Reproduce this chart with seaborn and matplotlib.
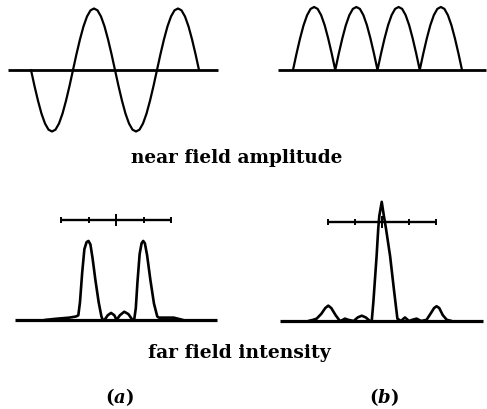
import matplotlib
matplotlib.use('Agg')
import matplotlib.pyplot as plt
import seaborn as sns

# near field: phase across the aperture (deg) and field amplitude
near_phase = [0, 15, 30, 45, 60, 75, 90, 105, 120, 135, 150, 165,
              180, 195, 210, 225, 240, 255, 270, 285, 300, 315, 330, 345,
              360, 375, 390, 405, 420, 435, 450, 465, 480, 495, 510, 525,
              540, 555, 570, 585, 600, 615, 630, 645, 660, 675, 690, 705, 720]
near_amp_a = [0, -0.26, -0.5, -0.71, -0.87, -0.97, -1, -0.97, -0.87, -0.71, -0.5, -0.26,
              0, 0.26, 0.5, 0.71, 0.87, 0.97, 1, 0.97, 0.87, 0.71, 0.5, 0.26,
              0, -0.26, -0.5, -0.71, -0.87, -0.97, -1, -0.97, -0.87, -0.71, -0.5, -0.26,
              0, 0.26, 0.5, 0.71, 0.87, 0.97, 1, 0.97, 0.87, 0.71, 0.5, 0.26, 0]
near_amp_b = [0, 0.26, 0.5, 0.71, 0.87, 0.97, 1, 0.97, 0.87, 0.71, 0.5, 0.26,
              0, 0.26, 0.5, 0.71, 0.87, 0.97, 1, 0.97, 0.87, 0.71, 0.5, 0.26,
              0, 0.26, 0.5, 0.71, 0.87, 0.97, 1, 0.97, 0.87, 0.71, 0.5, 0.26,
              0, 0.26, 0.5, 0.71, 0.87, 0.97, 1, 0.97, 0.87, 0.71, 0.5, 0.26, 0]

# far field: angle (scale-bar units) and intensity
far_angle_a = [-2.6, -2.2, -1.7, -1.45, -1.37, -1.31, -1.23, -1.15, -1.07, -1.0,
               -0.93, -0.85, -0.75, -0.63, -0.53, -0.48, -0.42, -0.3, -0.18, -0.06,
               0.02, 0.14, 0.3, 0.45, 0.6, 0.66, 0.72, 0.78, 0.86, 0.93,
               0.99, 1.05, 1.13, 1.25, 1.38, 1.50, 1.56, 1.8, 2.1, 2.44]
far_int_a = [0.0, 0.01, 0.02, 0.03, 0.04, 0.15, 0.40, 0.60, 0.66, 0.67,
             0.64, 0.52, 0.34, 0.15, 0.03, 0.0, 0.0, 0.04, 0.06, 0.04,
             0.0, 0.04, 0.07, 0.05, 0.0, 0.0, 0.1, 0.32, 0.56, 0.65,
             0.67, 0.65, 0.55, 0.34, 0.14, 0.03, 0.02, 0.02, 0.02, 0.0]
far_angle_b = [-2.73, -2.55, -2.42, -2.25, -2.1, -1.99, -1.88, -1.72, -1.56, -1.45,
               -1.37, -1.25, -1.05, -0.9, -0.75, -0.6, -0.45, -0.38, -0.32, -0.2,
               -0.14, -0.1, -0.01, 0.07, 0.15, 0.3, 0.44, 0.57, 0.7, 0.85,
               1.0, 1.12, 1.28, 1.45, 1.65, 1.82, 1.93, 2.02, 2.12, 2.25, 2.4, 2.58]
far_int_b = [0.0, 0.01, 0.02, 0.06, 0.11, 0.13, 0.11, 0.05, 0.0, 0.01,
             0.02, 0.01, 0.0, 0.03, 0.045, 0.03, 0.0, 0.0, 0.16, 0.55,
             0.78, 0.89, 1.01, 0.89, 0.78, 0.55, 0.27, 0.02, 0.0, 0.03,
             0.0, 0.01, 0.02, 0.0, 0.01, 0.07, 0.11, 0.125, 0.11, 0.05, 0.01, 0.0]
scale_ticks = [-2, -1, 0, 1, 2]

labels = ['near field amplitude', 'far field intensity', '(a)', '(b)']

W, H = 487, 410
sns.set_theme(style='white')
plt.rcParams['font.family'] = ['DejaVu Serif']
plt.rcParams['mathtext.fontset'] = 'custom'
plt.rcParams['mathtext.it'] = 'DejaVu Serif:italic:bold'

fig = plt.figure(figsize=(W / 100, H / 100), dpi=100, facecolor='white')


def overlay(ox, oy, sx, sy):
    """full-figure axes whose data origin sits at pixel (ox, oy)"""
    ax = fig.add_axes([0, 0, 1, 1])
    ax.set_xlim(-ox / sx, (W - ox) / sx)
    ax.set_ylim(-(H - oy) / sy, oy / sy)
    ax.axis('off')
    ax.patch.set_alpha(0)
    return ax


def curve(ax, x, y, lw):
    sns.lineplot(x=x, y=y, ax=ax, color='black', lw=lw, estimator=None,
                 sort=False, solid_joinstyle='round', solid_capstyle='round')


def scale_bar(ax, y0):
    ax.hlines(y0, scale_ticks[0], scale_ticks[-1], color='black', lw=1.7)
    for t in scale_ticks:
        d = 0.05 if t == 0 else 0.025
        ax.vlines(t, y0 - d, y0 + d, color='black', lw=1.4)


# near field (a): alternating phase
ax1 = overlay(31, 71, 42 / 180, 61.5)
ax1.hlines(0, -99, 801, color='black', lw=2.0)
curve(ax1, near_phase, near_amp_a, 1.6)

# near field (b): in phase
ax2 = overlay(293, 71, 169 / 720, 63)
ax2.hlines(0, -64, 822, color='black', lw=2.0)
curve(ax2, near_phase, near_amp_b, 1.6)

# far field (a)
ax3 = overlay(116, 321, 27.5, 118)
ax3.hlines(0, -3.67, 3.67, color='black', lw=2.3)
curve(ax3, far_angle_a, far_int_a, 1.9)
scale_bar(ax3, 0.85)

# far field (b)
ax4 = overlay(382, 322, 27, 118)
ax4.hlines(0, -3.78, 3.74, color='black', lw=2.3)
curve(ax4, far_angle_b, far_int_b, 1.9)
scale_bar(ax4, 0.84)

fig.text(237 / W, 1 - 163 / H, labels[0], ha='center', va='baseline',
         fontsize=13.3, fontweight='bold', color='black')
fig.text(239 / W, 1 - 358 / H, labels[1], ha='center', va='baseline',
         fontsize=13.5, fontweight='bold', color='black')
fig.text(119 / W, 1 - 397 / H, r'($\it{a}$)', ha='center', va='center',
         fontsize=13, fontweight='bold', color='black')
fig.text(384 / W, 1 - 397 / H, r'($\it{b}$)', ha='center', va='center',
         fontsize=13, fontweight='bold', color='black')

fig.savefig('out.png', dpi=100, facecolor='white')
